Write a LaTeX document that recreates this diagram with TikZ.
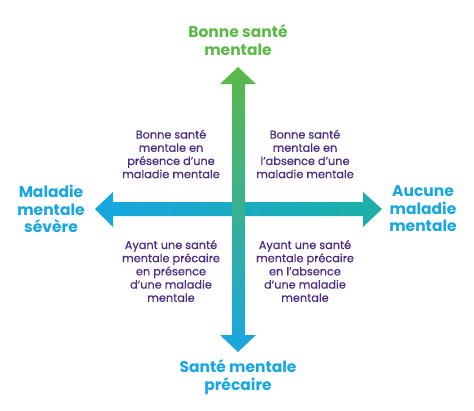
\documentclass[tikz,border=0pt]{standalone}
\usepackage{fontspec}
\setmainfont{Poppins}
\newfontfamily\medfont{Poppins}[FakeBold=0.5]
\definecolor{cgreen}{HTML}{5CB947}
\definecolor{cblue}{HTML}{18A6E0}
\definecolor{cteal}{HTML}{1CB0A6}
\definecolor{cmid}{HTML}{14AAD2}
\definecolor{cpurple}{HTML}{4A2C82}
\tikzset{
  big/.style={font=\bfseries\fontsize{15.5}{17.5}\selectfont, align=center, inner sep=0pt},
  quad/.style={font=\medfont\fontsize{11.3}{13.2}\selectfont, align=center, text=cpurple, inner sep=0pt},
}
\begin{document}
\begin{tikzpicture}[x=1pt,y=-1pt]
\useasboundingbox (0,0) rectangle (474,410);
% horizontal arrow
\shade[left color=cblue, right color=cteal]
  (95,209) -- (113,192) -- (113,202) -- (363,202) -- (363,192) -- (382,209)
  -- (363,227) -- (363,216) -- (113,216) -- (113,227) -- cycle;
% vertical arrow
\shade[top color=cgreen, middle color=cmid, bottom color=cblue]
  (238,67) -- (256,84) -- (245,84) -- (245,335) -- (256,335) -- (238,352)
  -- (220,335) -- (232,335) -- (232,84) -- (220,84) -- cycle;
\node[big, text=cgreen] (top) at (238,40) {Bonne santé\\mentale};
\node[big, text=cblue] (bot) at (238,377) {Santé mentale\\précaire};
\node[big, text=cblue] (left) at (51,209) {Maladie\\mentale\\sévère};
\node[big, text=cblue] (right) at (423,209) {Aucune\\maladie\\mentale};
\node[quad] (ul) at (171,154) {Bonne santé\\mentale en\\présence d’une\\maladie mentale};
\node[quad] (ur) at (305,154) {Bonne santé\\mentale en\\l’absence d’une\\maladie mentale};
\node[quad] (ll) at (171,271) {Ayant une santé\\mentale précaire\\en présence\\d’une maladie\\mentale};
\node[quad] (lr) at (305,271) {Ayant une santé\\mentale précaire\\en l’absence\\d’une maladie\\mentale};
\end{tikzpicture}
\end{document}
